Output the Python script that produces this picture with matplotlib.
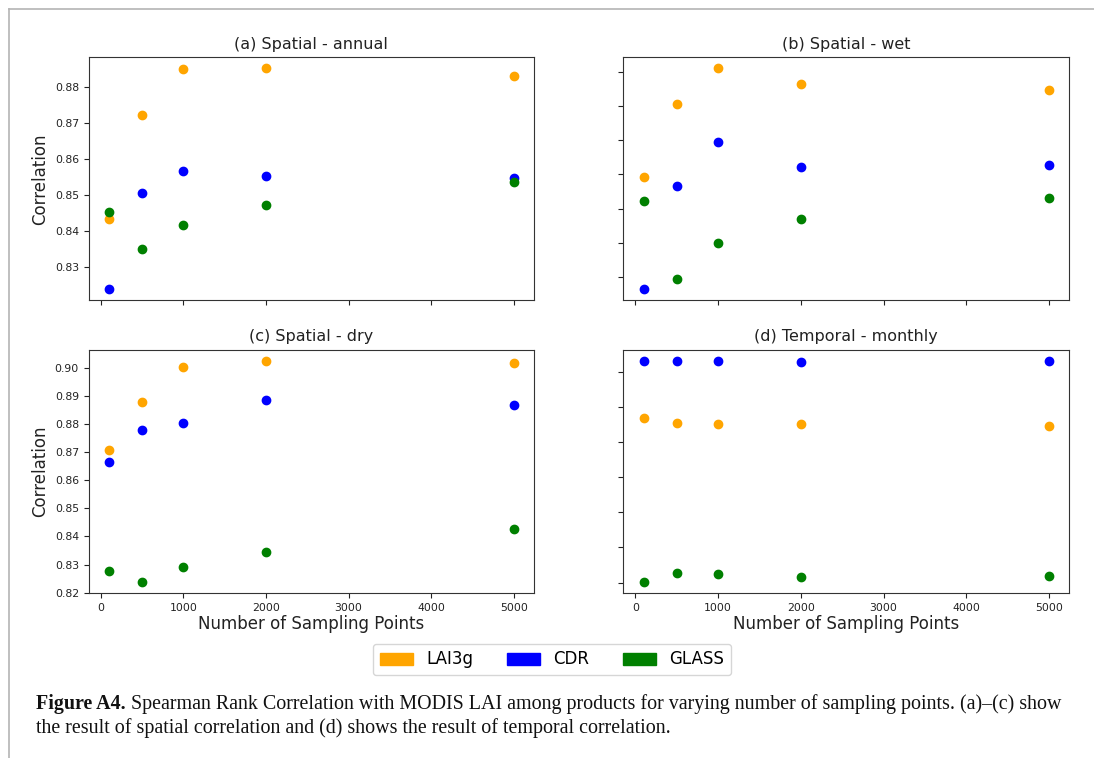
import matplotlib
matplotlib.use("Agg")
import matplotlib.pyplot as plt
from matplotlib.patches import Patch
from matplotlib.lines import Line2D

# ---------------- data ----------------
sampling_points = [100, 500, 1000, 2000, 5000]
products = ["LAI3g", "CDR", "GLASS"]
product_colors = ["orange", "blue", "green"]

titles = ["(a) Spatial - annual", "(b) Spatial - wet", "(c) Spatial - dry", "(d) Temporal - monthly"]

a_lai3g = [0.8432, 0.8721, 0.8849, 0.8851, 0.8829]
a_cdr = [0.8237, 0.8505, 0.8565, 0.8553, 0.8545]
a_glass = [0.8452, 0.8349, 0.8416, 0.8471, 0.8536]

b_lai3g = [0.8593, 0.8807, 0.8910, 0.8863, 0.8846]
b_cdr = [0.8264, 0.8567, 0.8696, 0.8622, 0.8628]
b_glass = [0.8522, 0.8293, 0.8398, 0.8469, 0.8532]

c_lai3g = [0.8708, 0.8880, 0.9005, 0.9026, 0.9018]
c_cdr = [0.8665, 0.8779, 0.8804, 0.8888, 0.8867]
c_glass = [0.8278, 0.8237, 0.8293, 0.8344, 0.8425]

d_lai3g = [0.8468, 0.8454, 0.8453, 0.8451, 0.8445]
d_cdr = [0.8632, 0.8631, 0.8632, 0.8628, 0.8630]
d_glass = [0.8001, 0.8027, 0.8024, 0.8015, 0.8019]

panels = [
    [a_lai3g, a_cdr, a_glass],
    [b_lai3g, b_cdr, b_glass],
    [c_lai3g, c_cdr, c_glass],
    [d_lai3g, d_cdr, d_glass],
]

x_ticks = [0, 1000, 2000, 3000, 4000, 5000]
xlabel = "Number of Sampling Points"
ylabel = "Correlation"

caption_bold = "Figure A4."
caption_line1 = (" Spearman Rank Correlation with MODIS LAI among products for varying "
                 "number of sampling points. (a)\u2013(c) show")
caption_line2 = "the result of spatial correlation and (d) shows the result of temporal correlation."

# ---------------- figure ----------------
W, H = 1094, 758
fig = plt.figure(figsize=(W / 100, H / 100), dpi=100)


def px_rect(left, top, right, bottom):
    return [left / W, 1 - bottom / H, (right - left) / W, (bottom - top) / H]


rects = [
    px_rect(88.7, 57.3, 534.0, 300.3),
    px_rect(623.3, 57.3, 1069.3, 300.3),
    px_rect(88.7, 349.7, 534.0, 593.3),
    px_rect(623.3, 349.7, 1069.3, 593.3),
]

axes = []
for i, r in enumerate(rects):
    if i == 0:
        ax = fig.add_axes(r)
    else:
        ax = fig.add_axes(r, sharex=axes[0])
    axes.append(ax)

for i, ax in enumerate(axes):
    for vals, col in zip(panels[i], product_colors):
        ax.scatter(sampling_points, vals, color=col, s=36, zorder=3)
    ax.set_title(titles[i], fontsize=11.5, color="#222222", pad=6)
    ax.set_xticks(x_ticks)
    ax.tick_params(labelsize=7.8, colors="#222222")
    for sp in ax.spines.values():
        sp.set_color("#333333")
    if i in (1, 3):
        ax.tick_params(labelleft=False)
    else:
        ax.set_ylabel(ylabel, fontsize=12, color="#222222", labelpad=4)
    if i in (0, 1):
        ax.tick_params(labelbottom=False)
    else:
        ax.set_xlabel(xlabel, fontsize=12, color="#222222", labelpad=1.5)

# legend
handles = [Patch(facecolor=c, edgecolor=c, label=p) for p, c in zip(products, product_colors)]
fig.legend(handles=handles, loc="center", bbox_to_anchor=(552 / W, 1 - 659.5 / H),
           ncol=3, fontsize=12, frameon=True)

# page frame lines
fig.add_artist(Line2D([9 / W, 9 / W], [0, 1 - 9 / H], transform=fig.transFigure,
                      color="#b4b4b4", lw=1.2))
fig.add_artist(Line2D([9 / W, 1], [1 - 9 / H, 1 - 9 / H], transform=fig.transFigure,
                      color="#b4b4b4", lw=1.2))

# caption
serif = ["Liberation Serif", "DejaVu Serif"]
fs = 12.0
x0 = 36
t1 = fig.text(x0 / W, 1 - 709 / H, caption_bold, fontsize=fs, fontweight="bold",
              family=serif, va="baseline", ha="left", color="#111111")
t2 = fig.text(0, 1 - 709 / H, caption_line1, fontsize=fs, family=serif,
              va="baseline", ha="left", color="#111111")
t3 = fig.text(x0 / W, 1 - 733 / H, caption_line2, fontsize=fs, family=serif,
              va="baseline", ha="left", color="#111111")

renderer = fig.canvas.get_renderer()
target = 1060 - x0
for _ in range(3):
    b1 = t1.get_window_extent(renderer=renderer)
    t2.set_x(b1.x1 / W)
    b2 = t2.get_window_extent(renderer=renderer)
    width = b2.x1 - b1.x0
    fs = fs * target / width
    for t in (t1, t2, t3):
        t.set_fontsize(fs)
b1 = t1.get_window_extent(renderer=renderer)
t2.set_x(b1.x1 / W)

fig.savefig("out.png", dpi=100)
